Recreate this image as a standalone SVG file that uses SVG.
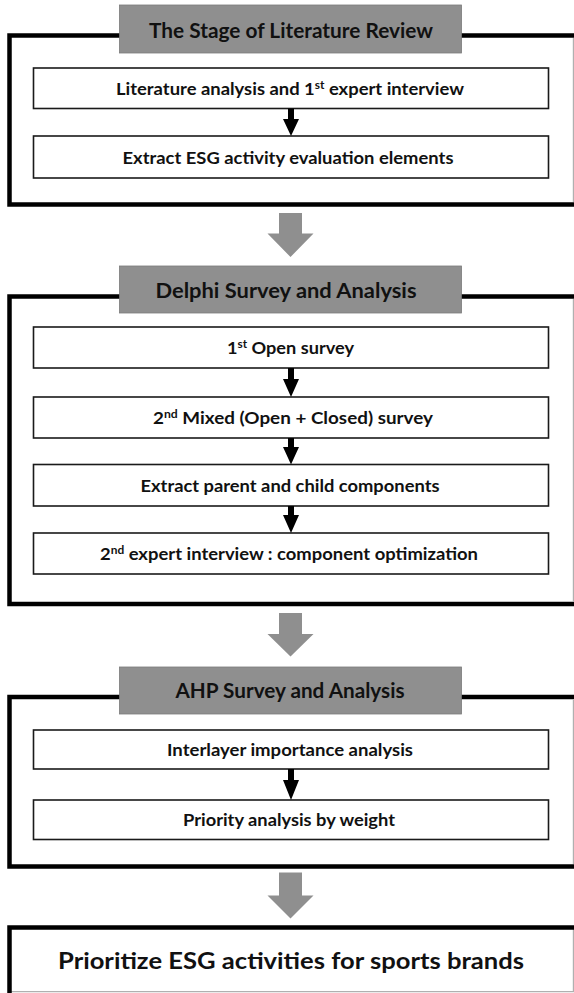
<svg xmlns="http://www.w3.org/2000/svg" width="574" height="993" viewBox="0 0 574 993">
<style>
.outer{fill:#fff;stroke:#000;stroke-width:4.5}
.edge{stroke:#b0b0b0;stroke-width:1.2}
.hdr{fill:#8f8f8f;stroke:#7a7a7a;stroke-width:0.8}
.box{fill:#fff;stroke:#1a1a1a;stroke-width:1.6}
.t{font-family:Lato,"Open Sans","Liberation Sans",sans-serif;font-weight:bold;fill:#111;text-anchor:middle}
.tb{font-size:17px}
.th{font-size:20px}
.tf{font-size:22px}
.sup{font-size:11px}
.ga{fill:#8f8f8f}
.ba{fill:#000}
</style>
<rect width="574" height="993" fill="#fff"/>

<g id="section1">
<rect class="outer" x="9.5" y="35.5" width="570" height="169"/>
<line class="edge" x1="573.4" y1="38" x2="573.4" y2="202"/>
<rect class="hdr" x="119.5" y="5" width="342" height="48"/>
<text class="t th" x="291" y="37.5" textLength="284" lengthAdjust="spacingAndGlyphs">The Stage of Literature Review</text>
</g>
<g id="node-lit">
<rect class="box" x="33.5" y="68" width="515" height="40.5"/>
<text class="t tb" x="290" y="94.5" textLength="348" lengthAdjust="spacingAndGlyphs">Literature analysis and 1<tspan class="sup" dy="-6">st</tspan><tspan dy="6">  expert interview</tspan></text>
</g>
<g id="node-extract-esg">
<rect class="box" x="33.5" y="136" width="515" height="42"/>
<text class="t tb" x="288" y="163.5" textLength="331" lengthAdjust="spacingAndGlyphs">Extract ESG activity evaluation elements</text>
</g>

<g id="section2">
<rect class="outer" x="9.5" y="296.5" width="570" height="307.5"/>
<line class="edge" x1="573.4" y1="299" x2="573.4" y2="602"/>
<rect class="hdr" x="119.5" y="266" width="342" height="47"/>
<text class="t th" x="286" y="297.5" textLength="261" lengthAdjust="spacingAndGlyphs">Delphi Survey and Analysis</text>
</g>
<g id="node-open">
<rect class="box" x="33.5" y="327" width="515" height="41"/>
<text class="t tb" x="290.5" y="354" textLength="127" lengthAdjust="spacingAndGlyphs">1<tspan class="sup" dy="-6">st</tspan><tspan dy="6"> Open survey</tspan></text>
</g>
<g id="node-mixed">
<rect class="box" x="33.5" y="397" width="515" height="41"/>
<text class="t tb" x="293" y="424" textLength="280" lengthAdjust="spacingAndGlyphs">2<tspan class="sup" dy="-6">nd</tspan><tspan dy="6"> Mixed (Open + Closed) survey</tspan></text>
</g>
<g id="node-parent-child">
<rect class="box" x="33.5" y="464.5" width="515" height="41.5"/>
<text class="t tb" x="290" y="491.5" textLength="299" lengthAdjust="spacingAndGlyphs">Extract parent and child components</text>
</g>
<g id="node-expert2">
<rect class="box" x="33.5" y="533" width="515" height="41"/>
<text class="t tb" x="289" y="560" textLength="378" lengthAdjust="spacingAndGlyphs">2<tspan class="sup" dy="-6">nd</tspan><tspan dy="6"> expert interview : component optimization</tspan></text>
</g>

<g id="section3">
<rect class="outer" x="9.5" y="697" width="570" height="169.5"/>
<line class="edge" x1="573.4" y1="699.5" x2="573.4" y2="864"/>
<rect class="hdr" x="119.5" y="667" width="342" height="47"/>
<text class="t th" x="290" y="698" textLength="229" lengthAdjust="spacingAndGlyphs">AHP Survey and Analysis</text>
</g>
<g id="node-interlayer">
<rect class="box" x="33.5" y="730" width="515" height="39"/>
<text class="t tb" x="290" y="755.5" textLength="246" lengthAdjust="spacingAndGlyphs">Interlayer importance analysis</text>
</g>
<g id="node-priority">
<rect class="box" x="33.5" y="800" width="515" height="39.5"/>
<text class="t tb" x="289" y="825.5" textLength="212" lengthAdjust="spacingAndGlyphs">Priority analysis by weight</text>
</g>

<g id="node-final">
<line class="edge" x1="573.4" y1="929" x2="573.4" y2="991.6"/>
<line class="edge" x1="9" y1="991.6" x2="574" y2="991.6"/>
<path d="M9.5,993 V927.5 H574" fill="none" stroke="#000" stroke-width="4.5"/>
<text class="t tf" x="291" y="968.5" textLength="466" lengthAdjust="spacingAndGlyphs">Prioritize ESG activities for sports brands</text>
</g>

<g id="connectors">
<polygon class="ba" points="288,108.5 294,108.5 294,119 299,119 291,136 283,119 288,119"/>
<polygon class="ba" points="288,368 294,368 294,379 299,379 291,397 283,379 288,379"/>
<polygon class="ba" points="288,438 294,438 294,447 299,447 291,464.5 283,447 288,447"/>
<polygon class="ba" points="288,506 294,506 294,515 299,515 291,533 283,515 288,515"/>
<polygon class="ba" points="288,769 294,769 294,780 299,780 291,800 283,780 288,780"/>
<polygon class="ga" points="279,213 302,213 302,233.5 313.5,233.5 290.5,257 267.5,233.5 279,233.5"/>
<polygon class="ga" points="279,613 302,613 302,634 313.5,634 290.5,656.5 267.5,634 279,634"/>
<polygon class="ga" points="279,872.5 302,872.5 302,895.5 313.5,895.5 290.5,918.5 267.5,895.5 279,895.5"/>
</g>
</svg>
